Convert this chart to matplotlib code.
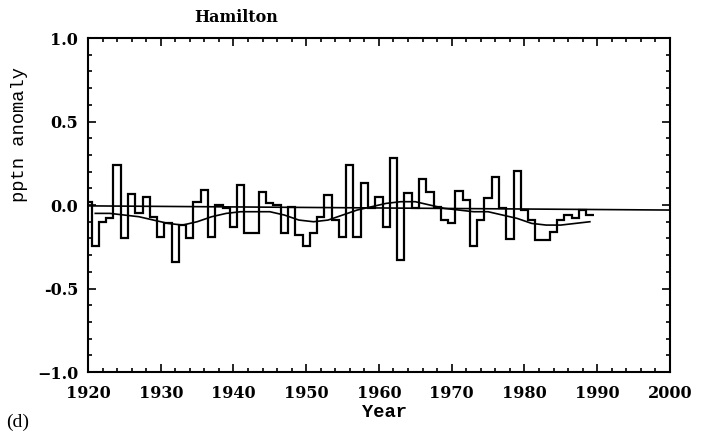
import numpy as np
import matplotlib.pyplot as plt
from matplotlib.ticker import MultipleLocator

# annual precipitation anomaly, Hamilton, 1920-1989
years = list(range(1920, 1990))
anomaly = [
    0.02, -0.245, -0.10, -0.08, 0.24, -0.20, 0.065, -0.05, 0.05, -0.07,
    -0.19, -0.11, -0.34, -0.12, -0.20, 0.02, 0.09, -0.19, 0.0, -0.02,
    -0.13, 0.12, -0.165, -0.165, 0.08, 0.01, 0.0, -0.17, -0.01, -0.18,
    -0.245, -0.165, -0.07, 0.06, -0.09, -0.19, 0.24, -0.19, 0.13, -0.02,
    0.05, -0.13, 0.28, -0.33, 0.07, -0.02, 0.155, 0.08, -0.01, -0.09,
    -0.105, 0.085, 0.03, -0.245, -0.09, 0.045, 0.17, -0.02, -0.205, 0.205,
    -0.03, -0.09, -0.21, -0.21, -0.16, -0.09, -0.06, -0.08, -0.03, -0.06,
]

# low-pass curve
smooth_years = [1921, 1923, 1925, 1927, 1929, 1931, 1933, 1935, 1937, 1939,
                1941, 1943, 1945, 1947, 1949, 1951, 1953, 1955, 1957, 1959,
                1961, 1963, 1965, 1967, 1969, 1971, 1973, 1975, 1977, 1979,
                1981, 1983, 1985, 1987, 1989]
smooth_vals = [-0.05, -0.05, -0.06, -0.07, -0.09, -0.11, -0.12, -0.10, -0.07, -0.05,
               -0.04, -0.04, -0.04, -0.06, -0.09, -0.10, -0.09, -0.06, -0.03, -0.01,
               0.01, 0.02, 0.02, 0.0, -0.02, -0.03, -0.04, -0.04, -0.06, -0.08,
               -0.11, -0.12, -0.12, -0.11, -0.10]

# linear trend
trend_years = [1920, 2000]
trend_vals = [-0.005, -0.03]

fig = plt.figure(figsize=(7.07, 4.4), dpi=100)
ax = fig.add_axes([0.1245, 0.1545, 0.823, 0.759])

# each year is a flat step centred on the year
edges = [y - 0.5 for y in years] + [years[-1] + 0.5]
ax.stairs(anomaly, edges, baseline=None, color='black', lw=1.6)
ax.plot(smooth_years, smooth_vals, color='black', lw=1.2)
ax.plot(trend_years, trend_vals, color='black', lw=1.2)

ax.set_xlim(1920, 2000)
ax.set_ylim(-1.0, 1.0)
ax.xaxis.set_major_locator(MultipleLocator(10))
ax.xaxis.set_minor_locator(MultipleLocator(2))
ax.yaxis.set_major_locator(MultipleLocator(0.5))
ax.yaxis.set_minor_locator(MultipleLocator(0.1))
ax.tick_params(which='both', direction='in', top=True, right=True, width=1.2)
ax.tick_params(which='major', length=6)
ax.tick_params(which='minor', length=3)
ax.tick_params(axis='x', pad=9)
ax.tick_params(axis='y', pad=7)
for s in ax.spines.values():
    s.set_linewidth(1.5)

ax.set_yticks([1.0, 0.5, 0.0, -0.5, -1.0])
ax.set_yticklabels(['1.0', '0.5', '0.0', '-0.5', '\u22121.0'])
for lab in ax.get_xticklabels() + ax.get_yticklabels():
    lab.set_fontfamily('DejaVu Serif')
    lab.set_fontweight('bold')
    lab.set_fontsize(11.5)

ax.set_xlabel('Year', fontfamily='Liberation Mono', fontweight='bold', fontsize=13.5)
ax.set_ylabel('pptn anomaly', fontfamily='Liberation Mono', fontsize=13.5)
ax.xaxis.set_label_coords(0.51, -0.096)
ax.yaxis.set_label_coords(-0.103, 0.71)

fig.text(236 / 707, 1 - 18 / 440, 'Hamilton', ha='center', va='center',
         fontfamily='DejaVu Serif', fontweight='bold', fontsize=11.5)
fig.text(6 / 707, 1 - 422 / 440, '(d)', ha='left', va='center',
         fontfamily='Liberation Serif', fontsize=14)

fig.savefig('out.png', dpi=100)
